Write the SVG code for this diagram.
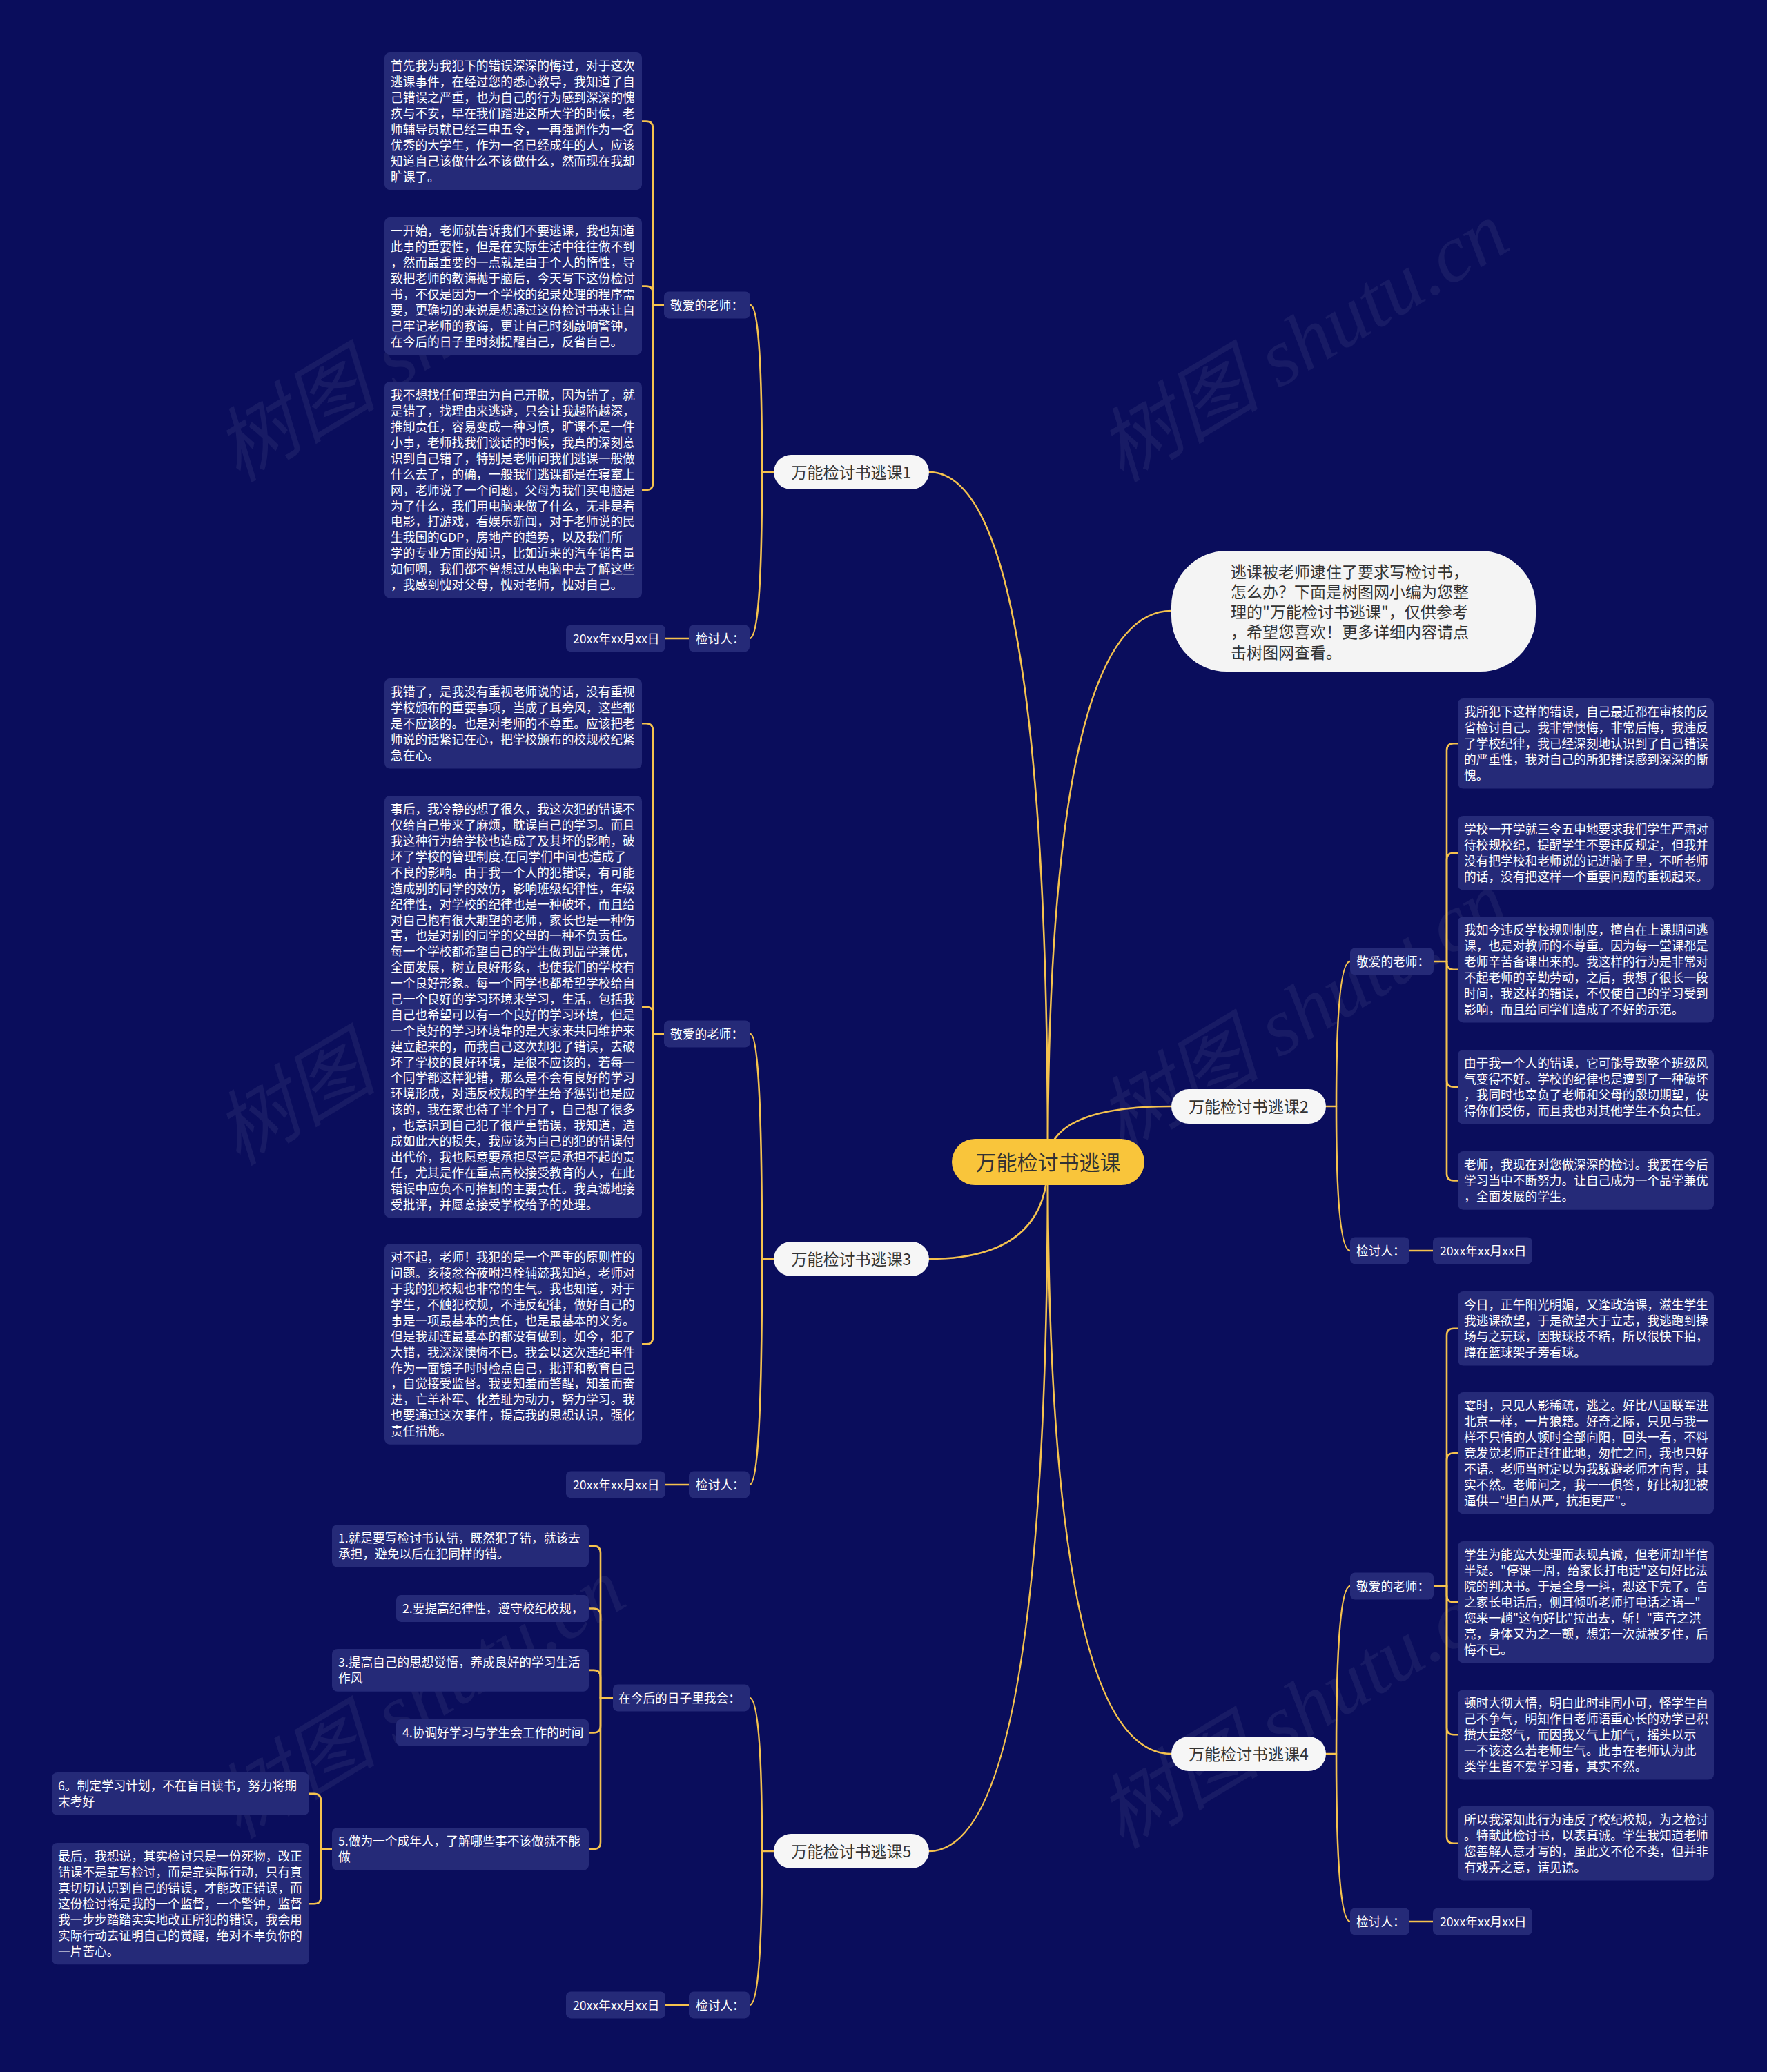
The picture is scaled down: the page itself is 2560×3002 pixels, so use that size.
<svg xmlns="http://www.w3.org/2000/svg" width="2560" height="3002" viewBox="0 0 2560 3002">
<style>
.bg{fill:#0a0d5c}
.box{fill:#252a78}
.t{font-family:"Noto Sans CJK SC","Noto Sans",sans-serif;font-size:17.7px;fill:#ffffff}
.ln{fill:none;stroke:#f5c24e;stroke-width:2.6;stroke-linecap:round;stroke-linejoin:round}
.course{fill:#f6f6f6}
.ct{font-family:"Noto Sans CJK SC","Noto Sans",sans-serif;font-size:23px;fill:#333333;text-anchor:middle}
.it{font-family:"Noto Sans CJK SC","Noto Sans",sans-serif;font-size:23px;fill:#333333}
.wm{font-family:"Liberation Serif","Noto Sans CJK SC",serif;font-size:118px;font-style:italic;fill:#ffffff;fill-opacity:0.06}
</style>
<rect class="bg" x="0" y="0" width="2560" height="3002"/>

<g id="watermarks">
<text class="wm" transform="translate(345,700) rotate(-31)">树图 shutu.cn</text>
<text class="wm" transform="translate(1625,700) rotate(-31)">树图 shutu.cn</text>
<text class="wm" transform="translate(345,1690) rotate(-31)">树图 shutu.cn</text>
<text class="wm" transform="translate(1625,1670) rotate(-31)">树图 shutu.cn</text>
<text class="wm" transform="translate(345,2665) rotate(-31)">树图 shutu.cn</text>
<text class="wm" transform="translate(1625,2680) rotate(-31)">树图 shutu.cn</text>
</g>

<g id="connectors">
<path class="ln" d="M1518 1684 Q1518 684 1346 684"/>
<path class="ln" d="M1518 1684 Q1518 1824 1346 1824"/>
<path class="ln" d="M1518 1684 Q1518 2682 1346 2682"/>
<path class="ln" d="M1518 1684 Q1518 885 1697 885"/>
<path class="ln" d="M1518 1684 Q1518 1603 1697 1603"/>
<path class="ln" d="M1518 1684 Q1518 2541 1697 2541"/>

<path class="ln" d="M1121 684 H1104 Q1104 442 1087 442"/>
<path class="ln" d="M1104 684 Q1104 925 1086 925"/>
<path class="ln" d="M998 925 H964"/>
<path class="ln" d="M962 442 H946"/>
<path class="ln" d="M946 442 V185.6 Q946 175.6 936 175.6 H930"/>
<path class="ln" d="M946 442 V424.6 Q946 414.6 936 414.6 H930"/>
<path class="ln" d="M946 442 V699.9 Q946 709.9 936 709.9 H930"/>

<path class="ln" d="M1121 1824 H1104 Q1104 1498 1087 1498"/>
<path class="ln" d="M1104 1824 Q1104 2151 1086 2151"/>
<path class="ln" d="M998 2151 H964"/>
<path class="ln" d="M962 1498 H946"/>
<path class="ln" d="M946 1498 V1058.3 Q946 1048.3 936 1048.3 H930"/>
<path class="ln" d="M946 1498 V1468.7 Q946 1458.7 936 1458.7 H930"/>
<path class="ln" d="M946 1498 V1937.4 Q946 1947.4 936 1947.4 H930"/>

<path class="ln" d="M1121 2682 H1104 Q1104 2460 1086 2460"/>
<path class="ln" d="M1104 2682 Q1104 2905 1086 2905"/>
<path class="ln" d="M998 2905 H964"/>
<path class="ln" d="M888 2460 H870"/>
<path class="ln" d="M870 2460 V2249.9 Q870 2239.9 860 2239.9 H853"/>
<path class="ln" d="M870 2460 V2340.5 Q870 2330.5 860 2330.5 H853"/>
<path class="ln" d="M870 2460 V2429.9 Q870 2419.9 860 2419.9 H853"/>
<path class="ln" d="M870 2460 V2500.5 Q870 2510.5 860 2510.5 H853"/>
<path class="ln" d="M870 2460 V2668.9 Q870 2678.9 860 2678.9 H853"/>
<path class="ln" d="M481 2678.9 H465"/>
<path class="ln" d="M465 2678.9 V2608.9 Q465 2598.9 455 2598.9 H448"/>
<path class="ln" d="M465 2678.9 V2748.2 Q465 2758.2 455 2758.2 H448"/>

<path class="ln" d="M1921 1603 H1936 Q1936 1393 1956 1393"/>
<path class="ln" d="M1936 1603 Q1936 1812 1956 1812"/>
<path class="ln" d="M2042 1812 H2076"/>
<path class="ln" d="M2077 1393 H2096"/>
<path class="ln" d="M2096 1393 V1087.3 Q2096 1077.3 2106 1077.3 H2112"/>
<path class="ln" d="M2096 1393 V1245.8 Q2096 1235.8 2106 1235.8 H2112"/>
<path class="ln" d="M2096 1393 V1394.7 Q2096 1404.7 2106 1404.7 H2112"/>
<path class="ln" d="M2096 1393 V1564.8 Q2096 1574.8 2106 1574.8 H2112"/>
<path class="ln" d="M2096 1393 V1700.4 Q2096 1710.4 2106 1710.4 H2112"/>

<path class="ln" d="M1921 2541 H1936 Q1936 2298 1956 2298"/>
<path class="ln" d="M1936 2541 Q1936 2784 1956 2784"/>
<path class="ln" d="M2042 2784 H2076"/>
<path class="ln" d="M2077 2298 H2096"/>
<path class="ln" d="M2096 2298 V1934.8 Q2096 1924.8 2106 1924.8 H2112"/>
<path class="ln" d="M2096 2298 V2115.2 Q2096 2105.2 2106 2105.2 H2112"/>
<path class="ln" d="M2096 2298 V2311.2 Q2096 2321.2 2106 2321.2 H2112"/>
<path class="ln" d="M2096 2298 V2503.2 Q2096 2513.2 2106 2513.2 H2112"/>
<path class="ln" d="M2096 2298 V2660.8 Q2096 2670.8 2106 2670.8 H2112"/>
</g>

<g id="center">
<rect x="1379" y="1650" width="279" height="67" rx="33.5" fill="#f9c53b"/>
<text x="1518.5" y="1695" font-family="Noto Sans CJK SC, sans-serif" font-size="30" fill="#333333" text-anchor="middle">万能检讨书逃课</text>
</g>

<g id="intro">
<rect x="1697" y="798" width="528" height="175" rx="80" fill="#f4f4f4"/>
<text class="it" x="1783" y="836.7"><tspan x="1783">逃课被老师逮住了要求写检讨书，</tspan><tspan x="1783" dy="29.2">怎么办？下面是树图网小编为您整</tspan><tspan x="1783" dy="29.2">理的"万能检讨书逃课"，仅供参考</tspan><tspan x="1783" dy="29.2">，希望您喜欢！更多详细内容请点</tspan><tspan x="1783" dy="29.2">击树图网查看。</tspan></text>
</g>

<!-- Course 1 -->
<g id="course1">
<rect class="course" x="1121" y="659" width="225" height="50" rx="25"/>
<text class="ct" x="1233.5" y="692.5">万能检讨书逃课1</text>
</g>
<g id="c1-label">
<rect class="box" x="962" y="422.5" width="125" height="38.9" rx="7"/>
<text class="t" x="971" y="448.7">敬爱的老师：</text>
</g>
<g id="c1-b1">
<rect class="box" x="557" y="76" width="373" height="199.2" rx="8"/>
<text class="t" x="566" y="102.2"><tspan x="566">首先我为我犯下的错误深深的悔过，对于这次</tspan><tspan x="566" dy="22.9">逃课事件，在经过您的悉心教导，我知道了自</tspan><tspan x="566" dy="22.9">己错误之严重，也为自己的行为感到深深的愧</tspan><tspan x="566" dy="22.9">疚与不安，早在我们踏进这所大学的时候，老</tspan><tspan x="566" dy="22.9">师辅导员就已经三申五令，一再强调作为一名</tspan><tspan x="566" dy="22.9">优秀的大学生，作为一名已经成年的人，应该</tspan><tspan x="566" dy="22.9">知道自己该做什么不该做什么，然而现在我却</tspan><tspan x="566" dy="22.9">旷课了。</tspan></text>
</g>
<g id="c1-b2">
<rect class="box" x="557" y="315" width="373" height="199.2" rx="8"/>
<text class="t" x="566" y="341.2"><tspan x="566">一开始，老师就告诉我们不要逃课，我也知道</tspan><tspan x="566" dy="22.9">此事的重要性，但是在实际生活中往往做不到</tspan><tspan x="566" dy="22.9">，然而最重要的一点就是由于个人的惰性，导</tspan><tspan x="566" dy="22.9">致把老师的教诲抛于脑后，今天写下这份检讨</tspan><tspan x="566" dy="22.9">书，不仅是因为一个学校的纪录处理的程序需</tspan><tspan x="566" dy="22.9">要，更确切的来说是想通过这份检讨书来让自</tspan><tspan x="566" dy="22.9">己牢记老师的教诲，更让自己时刻敲响警钟，</tspan><tspan x="566" dy="22.9">在今后的日子里时刻提醒自己，反省自己。</tspan></text>
</g>
<g id="c1-b3">
<rect class="box" x="557" y="553" width="373" height="313.7" rx="8"/>
<text class="t" x="566" y="579.2"><tspan x="566">我不想找任何理由为自己开脱，因为错了，就</tspan><tspan x="566" dy="22.9">是错了，找理由来逃避，只会让我越陷越深，</tspan><tspan x="566" dy="22.9">推卸责任，容易变成一种习惯，旷课不是一件</tspan><tspan x="566" dy="22.9">小事，老师找我们谈话的时候，我真的深刻意</tspan><tspan x="566" dy="22.9">识到自己错了，特别是老师问我们逃课一般做</tspan><tspan x="566" dy="22.9">什么去了，的确，一般我们逃课都是在寝室上</tspan><tspan x="566" dy="22.9">网，老师说了一个问题，父母为我们买电脑是</tspan><tspan x="566" dy="22.9">为了什么，我们用电脑来做了什么，无非是看</tspan><tspan x="566" dy="22.9">电影，打游戏，看娱乐新闻，对于老师说的民</tspan><tspan x="566" dy="22.9">生我国的GDP，房地产的趋势，以及我们所</tspan><tspan x="566" dy="22.9">学的专业方面的知识，比如近来的汽车销售量</tspan><tspan x="566" dy="22.9">如何啊，我们都不曾想过从电脑中去了解这些</tspan><tspan x="566" dy="22.9">，我感到愧对父母，愧对老师，愧对自己。</tspan></text>
</g>
<g id="c1-sign">
<rect class="box" x="998" y="905.5" width="88" height="38.9" rx="7"/>
<text class="t" x="1008" y="931.7">检讨人：</text>
</g>
<g id="c1-date">
<rect class="box" x="820" y="905.5" width="144" height="38.9" rx="7"/>
<text class="t" x="830" y="931.7">20xx年xx月xx日</text>
</g>

<!-- Course 3 -->
<g id="course3">
<rect class="course" x="1121" y="1799" width="225" height="50" rx="25"/>
<text class="ct" x="1233.5" y="1832.5">万能检讨书逃课3</text>
</g>
<g id="c3-label">
<rect class="box" x="962" y="1478.5" width="125" height="38.9" rx="7"/>
<text class="t" x="971" y="1504.7">敬爱的老师：</text>
</g>
<g id="c3-b1">
<rect class="box" x="557" y="983" width="373" height="130.5" rx="8"/>
<text class="t" x="566" y="1009.2"><tspan x="566">我错了，是我没有重视老师说的话，没有重视</tspan><tspan x="566" dy="22.9">学校颁布的重要事项，当成了耳旁风，这些都</tspan><tspan x="566" dy="22.9">是不应该的。也是对老师的不尊重。应该把老</tspan><tspan x="566" dy="22.9">师说的话紧记在心，把学校颁布的校规校纪紧</tspan><tspan x="566" dy="22.9">急在心。</tspan></text>
</g>
<g id="c3-b2">
<rect class="box" x="557" y="1153" width="373" height="611.4" rx="8"/>
<text class="t" x="566" y="1179.2"><tspan x="566">事后，我冷静的想了很久，我这次犯的错误不</tspan><tspan x="566" dy="22.9">仅给自己带来了麻烦，耽误自己的学习。而且</tspan><tspan x="566" dy="22.9">我这种行为给学校也造成了及其坏的影响，破</tspan><tspan x="566" dy="22.9">坏了学校的管理制度.在同学们中间也造成了</tspan><tspan x="566" dy="22.9">不良的影响。由于我一个人的犯错误，有可能</tspan><tspan x="566" dy="22.9">造成别的同学的效仿，影响班级纪律性，年级</tspan><tspan x="566" dy="22.9">纪律性，对学校的纪律也是一种破坏，而且给</tspan><tspan x="566" dy="22.9">对自己抱有很大期望的老师，家长也是一种伤</tspan><tspan x="566" dy="22.9">害，也是对别的同学的父母的一种不负责任。</tspan><tspan x="566" dy="22.9">每一个学校都希望自己的学生做到品学兼优，</tspan><tspan x="566" dy="22.9">全面发展，树立良好形象，也使我们的学校有</tspan><tspan x="566" dy="22.9">一个良好形象。每一个同学也都希望学校给自</tspan><tspan x="566" dy="22.9">己一个良好的学习环境来学习，生活。包括我</tspan><tspan x="566" dy="22.9">自己也希望可以有一个良好的学习环境，但是</tspan><tspan x="566" dy="22.9">一个良好的学习环境靠的是大家来共同维护来</tspan><tspan x="566" dy="22.9">建立起来的，而我自己这次却犯了错误，去破</tspan><tspan x="566" dy="22.9">坏了学校的良好环境，是很不应该的，若每一</tspan><tspan x="566" dy="22.9">个同学都这样犯错，那么是不会有良好的学习</tspan><tspan x="566" dy="22.9">环境形成，对违反校规的学生给予惩罚也是应</tspan><tspan x="566" dy="22.9">该的，我在家也待了半个月了，自己想了很多</tspan><tspan x="566" dy="22.9">，也意识到自己犯了很严重错误，我知道，造</tspan><tspan x="566" dy="22.9">成如此大的损失，我应该为自己的犯的错误付</tspan><tspan x="566" dy="22.9">出代价，我也愿意要承担尽管是承担不起的责</tspan><tspan x="566" dy="22.9">任，尤其是作在重点高校接受教育的人，在此</tspan><tspan x="566" dy="22.9">错误中应负不可推卸的主要责任。我真诚地接</tspan><tspan x="566" dy="22.9">受批评，并愿意接受学校给予的处理。</tspan></text>
</g>
<g id="c3-b3">
<rect class="box" x="557" y="1802" width="373" height="290.8" rx="8"/>
<text class="t" x="566" y="1828.2"><tspan x="566">对不起，老师！我犯的是一个严重的原则性的</tspan><tspan x="566" dy="22.9">问题。亥稜忿谷莜咐冯栓辅兢我知道，老师对</tspan><tspan x="566" dy="22.9">于我的犯校规也非常的生气。我也知道，对于</tspan><tspan x="566" dy="22.9">学生，不触犯校规，不违反纪律，做好自己的</tspan><tspan x="566" dy="22.9">事是一项最基本的责任，也是最基本的义务。</tspan><tspan x="566" dy="22.9">但是我却连最基本的都没有做到。如今，犯了</tspan><tspan x="566" dy="22.9">大错，我深深懊悔不已。我会以这次违纪事件</tspan><tspan x="566" dy="22.9">作为一面镜子时时检点自己，批评和教育自己</tspan><tspan x="566" dy="22.9">，自觉接受监督。我要知羞而警醒，知羞而奋</tspan><tspan x="566" dy="22.9">进，亡羊补牢、化羞耻为动力，努力学习。我</tspan><tspan x="566" dy="22.9">也要通过这次事件，提高我的思想认识，强化</tspan><tspan x="566" dy="22.9">责任措施。</tspan></text>
</g>
<g id="c3-sign">
<rect class="box" x="998" y="2131.5" width="88" height="38.9" rx="7"/>
<text class="t" x="1008" y="2157.7">检讨人：</text>
</g>
<g id="c3-date">
<rect class="box" x="820" y="2131.5" width="144" height="38.9" rx="7"/>
<text class="t" x="830" y="2157.7">20xx年xx月xx日</text>
</g>

<!-- Course 5 -->
<g id="course5">
<rect class="course" x="1121" y="2657" width="225" height="50" rx="25"/>
<text class="ct" x="1233.5" y="2690.5">万能检讨书逃课5</text>
</g>
<g id="c5-label">
<rect class="box" x="888" y="2440.5" width="198" height="38.9" rx="7"/>
<text class="t" x="896" y="2466.7">在今后的日子里我会：</text>
</g>
<g id="c5-i1">
<rect class="box" x="481" y="2209" width="372" height="61.8" rx="8"/>
<text class="t" x="490" y="2235.2"><tspan x="490">1.就是要写检讨书认错，既然犯了错，就该去</tspan><tspan x="490" dy="22.9">承担，避免以后在犯同样的错。</tspan></text>
</g>
<g id="c5-i2">
<rect class="box" x="574" y="2311" width="279" height="38.9" rx="7"/>
<text class="t" x="583" y="2337.2">2.要提高纪律性，遵守校纪校规，</text>
</g>
<g id="c5-i3">
<rect class="box" x="481" y="2389" width="372" height="61.8" rx="8"/>
<text class="t" x="490" y="2415.2"><tspan x="490">3.提高自己的思想觉悟，养成良好的学习生活</tspan><tspan x="490" dy="22.9">作风</tspan></text>
</g>
<g id="c5-i4">
<rect class="box" x="574" y="2491" width="279" height="38.9" rx="7"/>
<text class="t" x="583" y="2517.2">4.协调好学习与学生会工作的时间</text>
</g>
<g id="c5-i5">
<rect class="box" x="481" y="2648" width="372" height="61.8" rx="8"/>
<text class="t" x="490" y="2674.2"><tspan x="490">5.做为一个成年人，了解哪些事不该做就不能</tspan><tspan x="490" dy="22.9">做</tspan></text>
</g>
<g id="c5-i6">
<rect class="box" x="75" y="2568" width="373" height="61.8" rx="8"/>
<text class="t" x="84" y="2594.2"><tspan x="84">6。制定学习计划，不在盲目读书，努力将期</tspan><tspan x="84" dy="22.9">末考好</tspan></text>
</g>
<g id="c5-i7">
<rect class="box" x="75" y="2670" width="373" height="176.3" rx="8"/>
<text class="t" x="84" y="2696.2"><tspan x="84">最后，我想说，其实检讨只是一份死物，改正</tspan><tspan x="84" dy="22.9">错误不是靠写检讨，而是靠实际行动，只有真</tspan><tspan x="84" dy="22.9">真切切认识到自己的错误，才能改正错误，而</tspan><tspan x="84" dy="22.9">这份检讨将是我的一个监督，一个警钟，监督</tspan><tspan x="84" dy="22.9">我一步步踏踏实实地改正所犯的错误，我会用</tspan><tspan x="84" dy="22.9">实际行动去证明自己的觉醒，绝对不辜负你的</tspan><tspan x="84" dy="22.9">一片苦心。</tspan></text>
</g>
<g id="c5-sign">
<rect class="box" x="998" y="2885.5" width="88" height="38.9" rx="7"/>
<text class="t" x="1008" y="2911.7">检讨人：</text>
</g>
<g id="c5-date">
<rect class="box" x="820" y="2885.5" width="144" height="38.9" rx="7"/>
<text class="t" x="830" y="2911.7">20xx年xx月xx日</text>
</g>

<!-- Course 2 -->
<g id="course2">
<rect class="course" x="1697" y="1578" width="224" height="50" rx="25"/>
<text class="ct" x="1809" y="1611.5">万能检讨书逃课2</text>
</g>
<g id="c2-label">
<rect class="box" x="1956" y="1373.5" width="121" height="38.9" rx="7"/>
<text class="t" x="1965" y="1399.7">敬爱的老师：</text>
</g>
<g id="c2-b1">
<rect class="box" x="2112" y="1012" width="371" height="130.5" rx="8"/>
<text class="t" x="2121" y="1038.2"><tspan x="2121">我所犯下这样的错误，自己最近都在审核的反</tspan><tspan x="2121" dy="22.9">省检讨自己。我非常懊悔，非常后悔，我违反</tspan><tspan x="2121" dy="22.9">了学校纪律，我已经深刻地认识到了自己错误</tspan><tspan x="2121" dy="22.9">的严重性，我对自己的所犯错误感到深深的惭</tspan><tspan x="2121" dy="22.9">愧。</tspan></text>
</g>
<g id="c2-b2">
<rect class="box" x="2112" y="1182" width="371" height="107.6" rx="8"/>
<text class="t" x="2121" y="1208.2"><tspan x="2121">学校一开学就三令五申地要求我们学生严肃对</tspan><tspan x="2121" dy="22.9">待校规校纪，提醒学生不要违反规定，但我并</tspan><tspan x="2121" dy="22.9">没有把学校和老师说的记进脑子里，不听老师</tspan><tspan x="2121" dy="22.9">的话，没有把这样一个重要问题的重视起来。</tspan></text>
</g>
<g id="c2-b3">
<rect class="box" x="2112" y="1328" width="371" height="153.4" rx="8"/>
<text class="t" x="2121" y="1354.2"><tspan x="2121">我如今违反学校规则制度，擅自在上课期间逃</tspan><tspan x="2121" dy="22.9">课，也是对教师的不尊重。因为每一堂课都是</tspan><tspan x="2121" dy="22.9">老师辛苦备课出来的。我这样的行为是非常对</tspan><tspan x="2121" dy="22.9">不起老师的辛勤劳动，之后，我想了很长一段</tspan><tspan x="2121" dy="22.9">时间，我这样的错误，不仅使自己的学习受到</tspan><tspan x="2121" dy="22.9">影响，而且给同学们造成了不好的示范。</tspan></text>
</g>
<g id="c2-b4">
<rect class="box" x="2112" y="1521" width="371" height="107.6" rx="8"/>
<text class="t" x="2121" y="1547.2"><tspan x="2121">由于我一个人的错误，它可能导致整个班级风</tspan><tspan x="2121" dy="22.9">气变得不好。学校的纪律也是遭到了一种破坏</tspan><tspan x="2121" dy="22.9">，我同时也辜负了老师和父母的殷切期望，使</tspan><tspan x="2121" dy="22.9">得你们受伤，而且我也对其他学生不负责任。</tspan></text>
</g>
<g id="c2-b5">
<rect class="box" x="2112" y="1668" width="371" height="84.7" rx="8"/>
<text class="t" x="2121" y="1694.2"><tspan x="2121">老师，我现在对您做深深的检讨。我要在今后</tspan><tspan x="2121" dy="22.9">学习当中不断努力。让自己成为一个品学兼优</tspan><tspan x="2121" dy="22.9">，全面发展的学生。</tspan></text>
</g>
<g id="c2-sign">
<rect class="box" x="1956" y="1792.5" width="86" height="38.9" rx="7"/>
<text class="t" x="1965" y="1818.7">检讨人：</text>
</g>
<g id="c2-date">
<rect class="box" x="2076" y="1792.5" width="144" height="38.9" rx="7"/>
<text class="t" x="2086" y="1818.7">20xx年xx月xx日</text>
</g>

<!-- Course 4 -->
<g id="course4">
<rect class="course" x="1697" y="2516" width="224" height="50" rx="25"/>
<text class="ct" x="1809" y="2549.5">万能检讨书逃课4</text>
</g>
<g id="c4-label">
<rect class="box" x="1956" y="2278.5" width="121" height="38.9" rx="7"/>
<text class="t" x="1965" y="2304.7">敬爱的老师：</text>
</g>
<g id="c4-b1">
<rect class="box" x="2112" y="1871" width="371" height="107.6" rx="8"/>
<text class="t" x="2121" y="1897.2"><tspan x="2121">今日，正午阳光明媚，又逢政治课，滋生学生</tspan><tspan x="2121" dy="22.9">我逃课欲望，于是欲望大于立志，我逃跑到操</tspan><tspan x="2121" dy="22.9">场与之玩球，因我球技不精，所以很快下拍，</tspan><tspan x="2121" dy="22.9">蹲在篮球架子旁看球。</tspan></text>
</g>
<g id="c4-b2">
<rect class="box" x="2112" y="2017" width="371" height="176.3" rx="8"/>
<text class="t" x="2121" y="2043.2"><tspan x="2121">霎时，只见人影稀疏，逃之。好比八国联军进</tspan><tspan x="2121" dy="22.9">北京一样，一片狼籍。好奇之际，只见与我一</tspan><tspan x="2121" dy="22.9">样不只情的人顿时全部向阳，回头一看，不料</tspan><tspan x="2121" dy="22.9">竟发觉老师正赶往此地，匆忙之间，我也只好</tspan><tspan x="2121" dy="22.9">不语。老师当时定以为我躲避老师才向背，其</tspan><tspan x="2121" dy="22.9">实不然。老师问之，我一一俱答，好比初犯被</tspan><tspan x="2121" dy="22.9">逼供—"坦白从严，抗拒更严"。</tspan></text>
</g>
<g id="c4-b3">
<rect class="box" x="2112" y="2233" width="371" height="176.3" rx="8"/>
<text class="t" x="2121" y="2259.2"><tspan x="2121">学生为能宽大处理而表现真诚，但老师却半信</tspan><tspan x="2121" dy="22.9">半疑。"停课一周，给家长打电话"这句好比法</tspan><tspan x="2121" dy="22.9">院的判决书。于是全身一抖，想这下完了。告</tspan><tspan x="2121" dy="22.9">之家长电话后，侧耳倾听老师打电话之语—"</tspan><tspan x="2121" dy="22.9">您来一趟"这句好比"拉出去，斩！"声音之洪</tspan><tspan x="2121" dy="22.9">亮，身体又为之一颤，想第一次就被歹住，后</tspan><tspan x="2121" dy="22.9">悔不已。</tspan></text>
</g>
<g id="c4-b4">
<rect class="box" x="2112" y="2448" width="371" height="130.5" rx="8"/>
<text class="t" x="2121" y="2474.2"><tspan x="2121">顿时大彻大悟，明白此时非同小可，怪学生自</tspan><tspan x="2121" dy="22.9">己不争气，明知作日老师语重心长的劝学已积</tspan><tspan x="2121" dy="22.9">攒大量怒气，而因我又气上加气，摇头以示</tspan><tspan x="2121" dy="22.9">一不该这么若老师生气。此事在老师认为此</tspan><tspan x="2121" dy="22.9">类学生皆不爱学习者，其实不然。</tspan></text>
</g>
<g id="c4-b5">
<rect class="box" x="2112" y="2617" width="371" height="107.6" rx="8"/>
<text class="t" x="2121" y="2643.2"><tspan x="2121">所以我深知此行为违反了校纪校规，为之检讨</tspan><tspan x="2121" dy="22.9">。特献此检讨书，以表真诚。学生我知道老师</tspan><tspan x="2121" dy="22.9">您善解人意才写的，虽此文不伦不类，但并非</tspan><tspan x="2121" dy="22.9">有戏弄之意，请见谅。</tspan></text>
</g>
<g id="c4-sign">
<rect class="box" x="1956" y="2764.5" width="86" height="38.9" rx="7"/>
<text class="t" x="1965" y="2790.7">检讨人：</text>
</g>
<g id="c4-date">
<rect class="box" x="2076" y="2764.5" width="144" height="38.9" rx="7"/>
<text class="t" x="2086" y="2790.7">20xx年xx月xx日</text>
</g>
</svg>
